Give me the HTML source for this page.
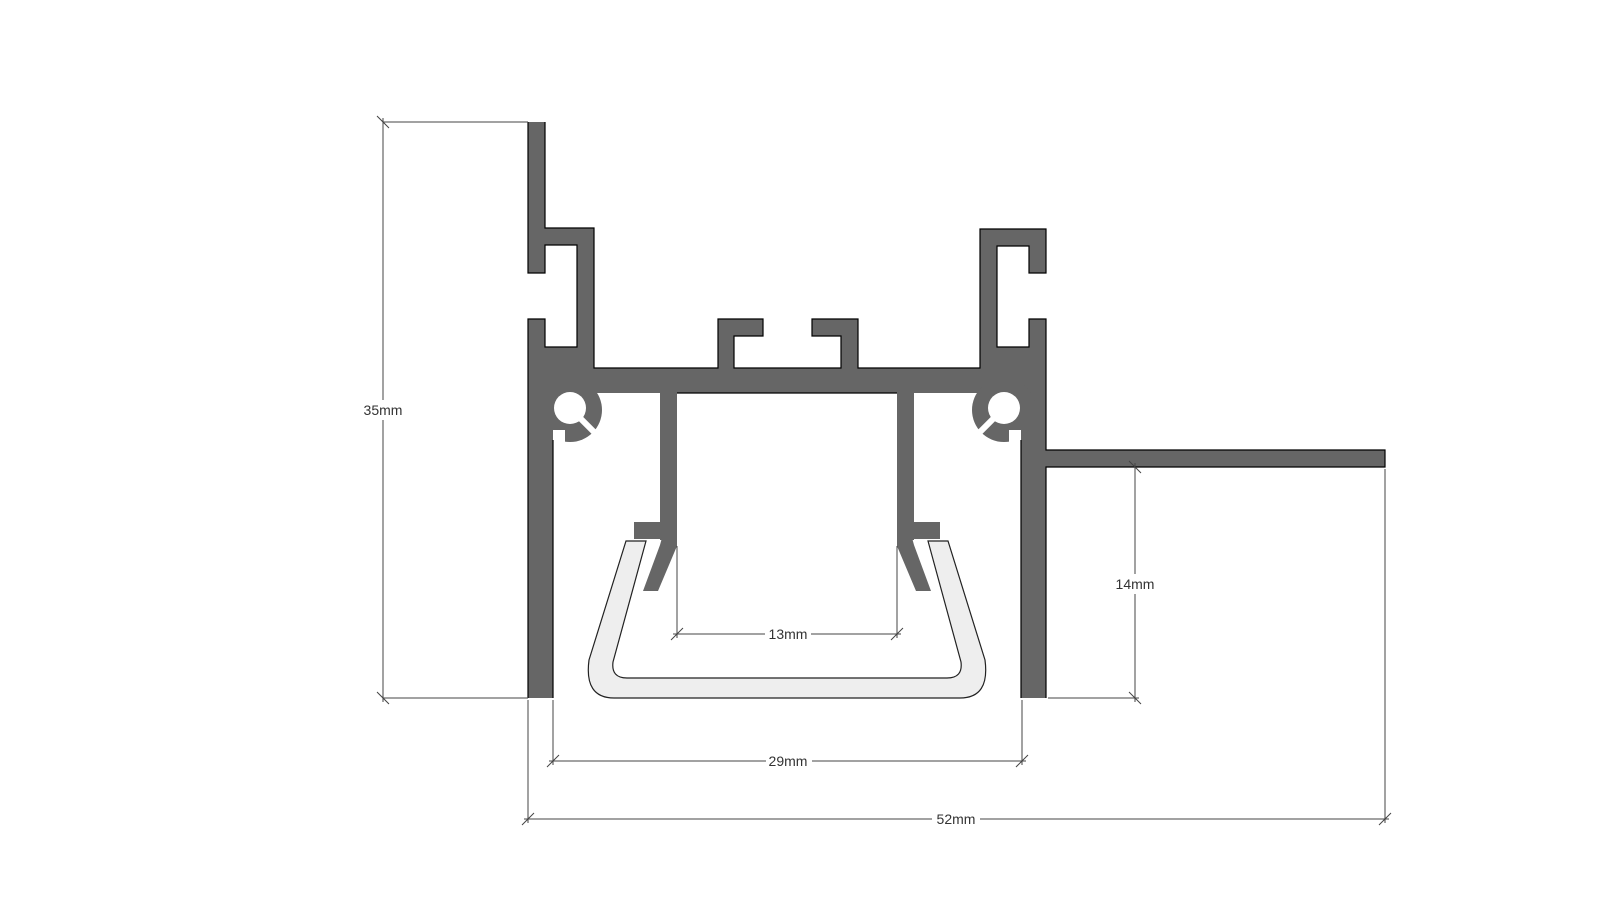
<!DOCTYPE html>
<html><head><meta charset="utf-8"><style>
html,body{margin:0;padding:0;background:#fff;}
svg{display:block;}
text{font-family:"Liberation Sans",sans-serif;font-size:14px;fill:#333;}
</style></head><body>
<svg width="1600" height="900" viewBox="0 0 1600 900" xmlns="http://www.w3.org/2000/svg">
<rect width="1600" height="900" fill="#fff"/>
<!-- diffuser -->
<path d="M626 541 L646 541 L613 662 Q611 678 627 678 L947 678 Q963 678 961 662 L928 541 L948 541 L985 660 Q990 698 960 698 L614 698 Q584 698 589 660 Z" fill="#eeeeee" stroke="#222" stroke-width="1.2"/>
<g fill="#666666">
<!-- left upper -->
<rect x="528" y="122" width="17" height="151"/>
<rect x="528" y="228" width="66" height="17"/>
<rect x="577" y="228" width="17" height="140"/>
<rect x="528" y="319" width="17" height="80"/>
<rect x="528" y="347" width="66" height="46"/>
<rect x="528" y="390" width="25" height="308"/>
<!-- right upper -->
<rect x="1029" y="229" width="17" height="44"/>
<rect x="980" y="229" width="66" height="17"/>
<rect x="980" y="229" width="17" height="139"/>
<rect x="1029" y="319" width="17" height="80"/>
<rect x="980" y="347" width="66" height="46"/>
<rect x="1021" y="390" width="25" height="308"/>
<!-- crossbar -->
<rect x="528" y="368" width="518" height="25"/>
<!-- hooks -->
<rect x="718" y="319" width="45" height="17"/>
<rect x="718" y="319" width="16" height="50"/>
<rect x="812" y="319" width="46" height="17"/>
<rect x="841" y="319" width="17" height="50"/>
<!-- stems -->
<rect x="660" y="392" width="17" height="148"/>
<rect x="897" y="392" width="17" height="148"/>
<rect x="634" y="522" width="27" height="17"/>
<rect x="913" y="522" width="27" height="17"/>
<polygon points="663,534 677,534 677,546 658,591 643,591 660,545"/>
<polygon points="911,534 897,534 897,546 916,591 931,591 914,545"/>
<!-- rings -->
<circle cx="570" cy="410" r="32"/>
<circle cx="1004" cy="410" r="32"/>
<!-- flange -->
<rect x="1046" y="450" width="339" height="17"/>
</g>
<g fill="#fff">
<circle cx="570" cy="408" r="16"/>
<circle cx="1004" cy="408" r="16"/>
<rect x="553" y="430" width="12" height="16"/>
<rect x="1009" y="430" width="12" height="16"/>
</g>
<line x1="572" y1="410" x2="602" y2="440" stroke="#fff" stroke-width="6"/>
<line x1="1002" y1="410" x2="972" y2="440" stroke="#fff" stroke-width="6"/>
<!-- outline edges -->
<g stroke="#000" stroke-width="1.2" fill="none">
<polyline points="545,122 545,228 594,228 594,368 718,368 718,319 763,319 763,336 734,336 734,368 841,368 841,336 812,336 812,319 858,319 858,368 980,368 980,229 1046,229 1046,273 1029,273 1029,246 997,246 997,347 1029,347 1029,319 1046,319 1046,450 1385,450 1385,467 1046,467 1046,698"/>
<polyline points="528,698 528,319 545,319 545,347 577,347 577,245 545,245 545,273 528,273 528,122"/>
<polyline points="553,698 553,440"/>
<polyline points="1021,698 1021,440"/>
<polyline points="677,393 897,393"/>
</g>
<!-- dimensions -->
<g stroke="#444" stroke-width="1" fill="none">
<line x1="383" y1="122" x2="528" y2="122"/>
<line x1="383" y1="698" x2="528" y2="698"/>
<line x1="383" y1="118" x2="383" y2="400"/>
<line x1="383" y1="420" x2="383" y2="702"/>
<line x1="377" y1="116" x2="389" y2="128"/>
<line x1="377" y1="692" x2="389" y2="704"/>
<line x1="553" y1="700" x2="553" y2="765"/>
<line x1="1022" y1="700" x2="1022" y2="765"/>
<line x1="549" y1="761" x2="766" y2="761"/>
<line x1="812" y1="761" x2="1026" y2="761"/>
<line x1="547" y1="767" x2="559" y2="755"/>
<line x1="1016" y1="767" x2="1028" y2="755"/>
<line x1="528" y1="700" x2="528" y2="823"/>
<line x1="1385" y1="469" x2="1385" y2="823"/>
<line x1="524" y1="819" x2="932" y2="819"/>
<line x1="980" y1="819" x2="1389" y2="819"/>
<line x1="522" y1="825" x2="534" y2="813"/>
<line x1="1379" y1="825" x2="1391" y2="813"/>
<line x1="677" y1="546" x2="677" y2="638"/>
<line x1="897" y1="546" x2="897" y2="638"/>
<line x1="673" y1="634" x2="765" y2="634"/>
<line x1="811" y1="634" x2="901" y2="634"/>
<line x1="671" y1="640" x2="683" y2="628"/>
<line x1="891" y1="640" x2="903" y2="628"/>
<line x1="1048" y1="698" x2="1139" y2="698"/>
<line x1="1135" y1="463" x2="1135" y2="574"/>
<line x1="1135" y1="594" x2="1135" y2="702"/>
<line x1="1129" y1="461" x2="1141" y2="473"/>
<line x1="1129" y1="692" x2="1141" y2="704"/>
</g>
<text x="383" y="415" text-anchor="middle">35mm</text>
<text x="788" y="766" text-anchor="middle">29mm</text>
<text x="956" y="824" text-anchor="middle">52mm</text>
<text x="788" y="639" text-anchor="middle">13mm</text>
<text x="1135" y="589" text-anchor="middle">14mm</text>
</svg>
</body></html>
